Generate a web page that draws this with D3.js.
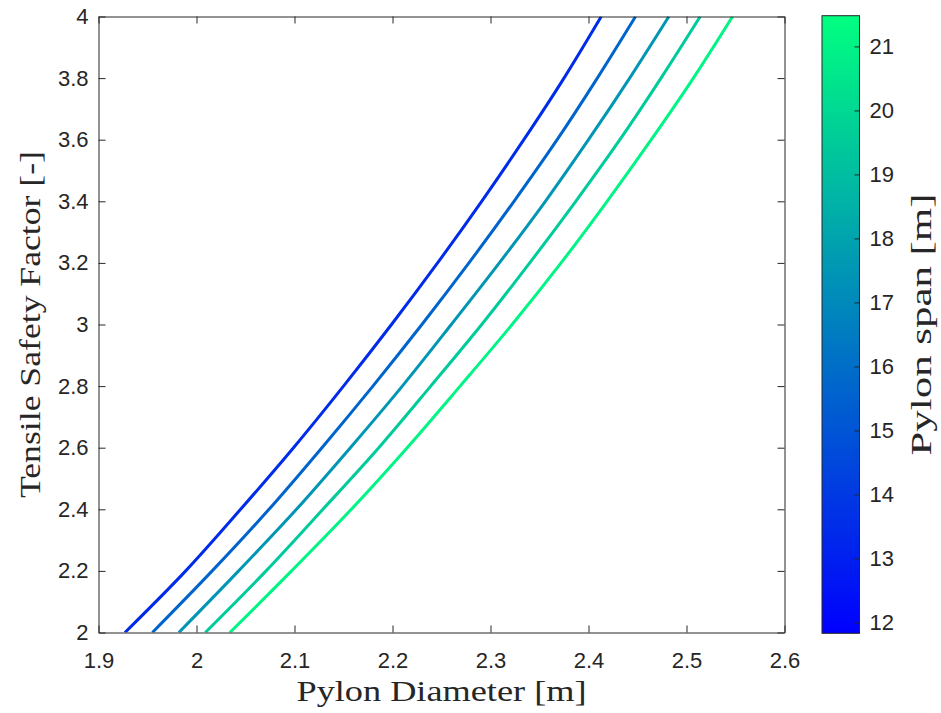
<!DOCTYPE html>
<html><head><meta charset="utf-8">
<script src="https://cdn.jsdelivr.net/npm/d3@7"></script>
<style>body{margin:0;background:#fff;} svg{display:block;}</style>
</head><body>
<svg id="c" width="941" height="713"></svg>
<script>
// Data
const safetyFactors = [2.0, 2.2, 2.4, 2.6, 2.8, 3.0, 3.2, 3.4, 3.6, 3.8, 4.0];
const pylonSpans = [13.5, 15.6, 17.5, 19.5, 21.1];
const diameterSeries = [
  [1.927, 1.989, 2.045, 2.099, 2.150, 2.199, 2.246, 2.291, 2.334, 2.375, 2.413],
  [1.955, 2.016, 2.074, 2.128, 2.180, 2.230, 2.278, 2.324, 2.368, 2.409, 2.448],
  [1.982, 2.043, 2.102, 2.157, 2.210, 2.260, 2.309, 2.356, 2.400, 2.442, 2.482],
  [2.009, 2.071, 2.129, 2.186, 2.239, 2.291, 2.340, 2.387, 2.432, 2.474, 2.514],
  [2.034, 2.097, 2.158, 2.215, 2.269, 2.322, 2.372, 2.419, 2.464, 2.507, 2.547]
];
const xTicks = [1.9, 2.0, 2.1, 2.2, 2.3, 2.4, 2.5, 2.6];
const yTicks = [2, 2.2, 2.4, 2.6, 2.8, 3, 3.2, 3.4, 3.6, 3.8, 4];
const cbTicks = [12, 13, 14, 15, 16, 17, 18, 19, 20, 21];
const cbDomain = [11.83, 21.48];

const svg = d3.select("#c");
const L = 98.5, R = 784.5, T = 16.5, B = 632.5;
const x = d3.scaleLinear().domain([1.9, 2.6]).range([L, R]);
const y = d3.scaleLinear().domain([2, 4]).range([B, T]);
const winter = t => `rgb(0,${Math.round(255*t)},${Math.round(255 - 127.5*t)})`;
const cnorm = d3.scaleLinear().domain(cbDomain).range([0, 1]).clamp(true);

const axisColor = "#262626";
const tickFont = "'Liberation Sans', Arial, sans-serif";
const serif = "'Liberation Serif', 'Times New Roman', serif";

// clip
svg.append("clipPath").attr("id", "clip").append("rect")
  .attr("x", L).attr("y", T).attr("width", R - L).attr("height", B - T);

// lines
const line = d3.line().x(d => x(d[0])).y(d => y(d[1])).curve(d3.curveCatmullRom.alpha(0.5));
const g = svg.append("g").attr("clip-path", "url(#clip)");
diameterSeries.forEach((s, i) => {
  g.append("path")
    .datum(s.map((v, j) => [v, safetyFactors[j]]))
    .attr("d", line)
    .attr("fill", "none")
    .attr("stroke", winter(cnorm(pylonSpans[i])))
    .attr("stroke-width", 3);
});

// axes
function styleAxis(sel) {
  sel.select(".domain").attr("stroke", axisColor).attr("stroke-width", 1);
  sel.selectAll(".tick line").attr("stroke", axisColor).attr("stroke-width", 1);
  sel.selectAll(".tick text").attr("fill", axisColor).style("font-family", tickFont).style("font-size", "22px");
}
const fmt = d => (Math.round(d * 10) / 10).toString();
svg.append("g").attr("transform", `translate(0,${B})`)
  .call(d3.axisBottom(x).tickValues(xTicks).tickFormat(fmt).tickSizeInner(-7).tickSizeOuter(0).tickPadding(20))
  .call(styleAxis);
svg.append("g").attr("transform", `translate(0,${T})`)
  .call(d3.axisTop(x).tickValues(xTicks).tickFormat("").tickSizeInner(-7).tickSizeOuter(0))
  .call(styleAxis);
svg.append("g").attr("transform", `translate(${L},0)`)
  .call(d3.axisLeft(y).tickValues(yTicks).tickFormat(fmt).tickSizeInner(-7).tickSizeOuter(0).tickPadding(10))
  .call(styleAxis);
svg.append("g").attr("transform", `translate(${R},0)`)
  .call(d3.axisRight(y).tickValues(yTicks).tickFormat("").tickSizeInner(-7).tickSizeOuter(0))
  .call(styleAxis);

// axis titles
svg.append("text").attr("x", (L + R) / 2).attr("y", 701).attr("text-anchor", "middle")
  .style("font-family", serif).style("font-size", "30px").attr("fill", axisColor)
  .attr("textLength", 290).attr("lengthAdjust", "spacingAndGlyphs")
  .text("Pylon Diameter [m]");
svg.append("text").attr("transform", `translate(40,${(T + B) / 2}) rotate(-90)`).attr("text-anchor", "middle")
  .style("font-family", serif).style("font-size", "30px").attr("fill", axisColor)
  .attr("textLength", 347).attr("lengthAdjust", "spacingAndGlyphs")
  .text("Tensile Safety Factor [-]");

// colorbar
const cbL = 822, cbR = 859.5, cbT = 15.7, cbB = 633.3;
const cy = d3.scaleLinear().domain(cbDomain).range([cbB, cbT]);
const defs = svg.append("defs");
const grad = defs.append("linearGradient").attr("id", "cbgrad")
  .attr("x1", 0).attr("y1", 1).attr("x2", 0).attr("y2", 0);
d3.range(0, 1.0001, 0.1).forEach(t => grad.append("stop").attr("offset", t).attr("stop-color", winter(t)));
svg.append("rect").attr("x", cbL).attr("y", cbT).attr("width", cbR - cbL).attr("height", cbB - cbT)
  .attr("fill", "url(#cbgrad)").attr("stroke", axisColor).attr("stroke-width", 1);
const cbAxis = svg.append("g").attr("transform", `translate(${cbR},0)`)
  .call(d3.axisRight(cy).tickValues(cbTicks).tickSizeInner(-5).tickSizeOuter(0).tickPadding(10))
  .call(styleAxis);
cbAxis.select(".domain").remove();
svg.append("text").attr("transform", `translate(931,${(cbT + cbB) / 2}) rotate(-90)`).attr("text-anchor", "middle")
  .style("font-family", serif).style("font-size", "30px").attr("fill", axisColor)
  .attr("textLength", 262).attr("lengthAdjust", "spacingAndGlyphs")
  .text("Pylon span [m]");
</script>
</body></html>
